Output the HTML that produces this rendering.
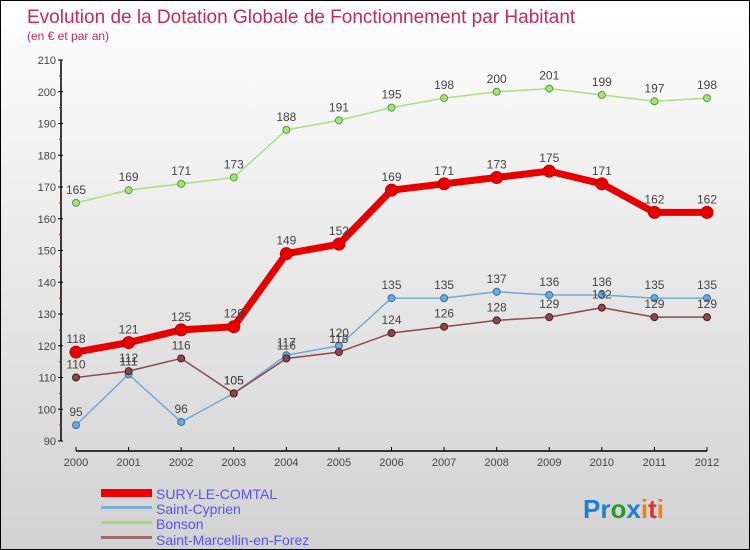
<!DOCTYPE html>
<html><head><meta charset="utf-8"><style>
body{margin:0}
#c{width:748px;height:548px;border:1px solid #000;position:relative;background:linear-gradient(#fff,#f5f5f5 20%,#d2d2d2);font-family:"Liberation Sans",sans-serif;overflow:hidden}
</style></head><body>
<div id="c">
<svg width="748" height="548" id="s">
<text x="26" y="22" font-size="19" fill="#c8285a">Evolution de la Dotation Globale de Fonctionnement par Habitant</text>
<text x="26" y="39" font-size="12" fill="#c8285a">(en € et par an)</text>
<g id="axes"></g><g id="series"></g>
<g>
<rect x="100" y="488" width="51" height="8" fill="#e00"/>
<text x="155" y="498" font-size="14" fill="#55e">SURY-LE-COMTAL</text>
<rect x="100" y="505" width="51" height="3" fill="#7ab0d8"/>
<text x="155" y="513" font-size="14" fill="#55e">Saint-Cyprien</text>
<rect x="100" y="520" width="51" height="3" fill="#9edc78"/>
<text x="155" y="528" font-size="14" fill="#55e">Bonson</text>
<rect x="100" y="535" width="51" height="3" fill="#9a6a6a"/>
<text x="155" y="544" font-size="14" fill="#55e">Saint-Marcellin-en-Forez</text>
</g>
<text x="582" y="517" font-size="26" font-weight="bold"><tspan fill="#1e7fd0">Pr</tspan><tspan fill="#2a9a2a">o</tspan><tspan fill="#1e7fd0">x</tspan><tspan fill="#f08010">i</tspan><tspan fill="#e03030">t</tspan><tspan fill="#f08010">i</tspan></text>
</svg></div>
<script>
const years=[2000,2001,2002,2003,2004,2005,2006,2007,2008,2009,2010,2011,2012];
const sury=[118,121,125,126,149,152,169,171,173,175,171,162,162];
const cyprien=[95,111,96,105,117,120,135,135,137,136,136,135,135];
const bonson=[165,169,171,173,188,191,195,198,200,201,199,197,198];
const marcellin=[110,112,116,105,116,118,124,126,128,129,132,129,129];
const yTicks=[90,100,110,120,130,140,150,160,170,180,190,200,210];
const NS="http://www.w3.org/2000/svg";
function X(i){return 75+i*(706-75)/(years.length-1);}
function Y(v){return 59+(210-v)*(440-59)/120;}
function mk(t,a,p){const e=document.createElementNS(NS,t);for(const k in a)e.setAttribute(k,a[k]);p.appendChild(e);return e;}
const ax=document.getElementById('axes');
let l=mk('line',{x1:60,y1:Y(210),x2:60,y2:Y(90),stroke:'#000','stroke-width':1.5},ax);


l=mk('line',{x1:75,y1:450,x2:706,y2:450,stroke:'#000','stroke-width':1.5},ax);


yTicks.forEach(v=>{
 mk('line',{x1:57,x2:62,y1:Y(v),y2:Y(v),stroke:'#000'},ax);
 if(v<210)mk('line',{x1:58,x2:61,y1:Y(v+5),y2:Y(v+5),stroke:'#e00'},ax);
 const t=mk('text',{x:55,y:Y(v)+4,'font-size':11,fill:'#444','text-anchor':'end'},ax);t.textContent=v;
 
 
});
years.forEach((y,i)=>{
 mk('line',{x1:X(i),x2:X(i),y1:446,y2:450,stroke:'#000'},ax);
 const t=mk('text',{x:X(i),y:465,'font-size':11,fill:'#444','text-anchor':'middle'},ax);t.textContent=y;
 
 
});
const sg=document.getElementById('series');
function draw(data,color,w,r,name,dark){
 const g=mk('g',{},sg);
 
 
 mk('polyline',{points:data.map((v,i)=>X(i)+','+Y(v)).join(' '),fill:'none',stroke:color,'stroke-width':w,'stroke-linejoin':'round'},g);
 data.forEach((v,i)=>{
  const c=mk('circle',{cx:X(i),cy:Y(v),r:r,fill:color,stroke:dark,'stroke-width':1},g);
  
  
  const t=mk('text',{x:X(i),y:Y(v)-9,'font-size':12,fill:'#444','text-anchor':'middle'},g);t.textContent=v;
  
  
 });
}
draw(bonson,'#a8e080',1.5,3.5,'bonson','#5a9a30');
draw(cyprien,'#70a8d8',1.5,3.5,'saint-cyprien','#3070a8');
draw(marcellin,'#8a4a4a',1.5,3.5,'saint-marcellin','#501818');
draw(sury,'#e80000',7,6,'sury','#c00000');
</script>
</body></html>
